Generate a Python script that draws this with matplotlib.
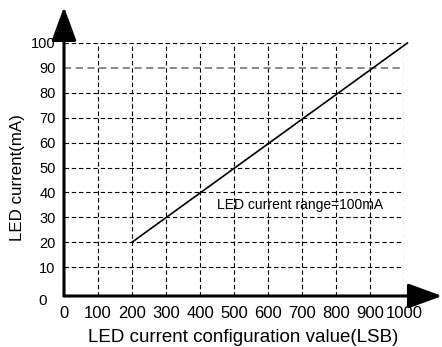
import matplotlib.pyplot as plt

plt.rcParams['font.family'] = ['Liberation Sans', 'DejaVu Sans']

# data
config_value = [200, 1010]
led_current = [20, 100]

x_ticks = [0, 100, 200, 300, 400, 500, 600, 700, 800, 900, 1000]
y_ticks = [10, 20, 30, 40, 50, 60, 70, 80, 90, 100]

fig = plt.figure(figsize=(4.42, 3.47), dpi=100)
ax = fig.add_axes([64 / 442, 51 / 347, 340 / 442, 253 / 347])

ax.set_xlim(0, 1000)
ax.set_ylim(-1.6, 100)

# dashed grid
for xv in x_ticks[1:]:
    ax.axvline(xv, color='black', lw=0.8, ls=(0, (4, 2.5)), zorder=1)
for yv in y_ticks:
    c = '#808080' if yv == 90 else 'black'
    w = 1.3 if yv == 90 else 0.8
    ax.axhline(yv, color=c, lw=w, ls=(0, (4, 2.5)), zorder=1)

ax.plot(config_value, led_current, color='black', lw=1.2, zorder=3, clip_on=False)

ax.text(450, 35, 'LED current range=100mA', fontsize=10, va='center', ha='left')

for s in ax.spines.values():
    s.set_visible(False)

# axis arrows
arrow = dict(arrowstyle='-|>,head_length=1.5,head_width=0.55', color='black',
             lw=2.2, shrinkA=0, shrinkB=0, mutation_scale=14)
ax.annotate('', xy=(1112, -1.6), xytext=(0, -1.6), arrowprops=arrow,
            annotation_clip=False)
ax.annotate('', xy=(0, 114.5), xytext=(0, -1.6), arrowprops=arrow,
            annotation_clip=False)

ax.set_xticks(x_ticks)
ax.set_xticklabels([str(v) for v in x_ticks])
ax.set_yticks(y_ticks)
ax.set_yticklabels([str(v) for v in y_ticks])
ax.tick_params(axis='x', length=0, pad=7.5, labelsize=12)
ax.tick_params(axis='y', length=0, pad=6, labelsize=10.5)

ax.annotate('0', xy=(0, -1.6), xytext=(-21, -5), textcoords='offset pixels',
            ha='center', va='center', fontsize=11, annotation_clip=False)

fig.text(243 / 442, 1 - 338 / 347, 'LED current configuration value(LSB)',
         ha='center', va='center', fontsize=13.5)
fig.text(18 / 442, 1 - 178 / 347, 'LED current(mA)', rotation=90,
         ha='center', va='center', fontsize=12.2)

fig.savefig('out.png', dpi=100)
